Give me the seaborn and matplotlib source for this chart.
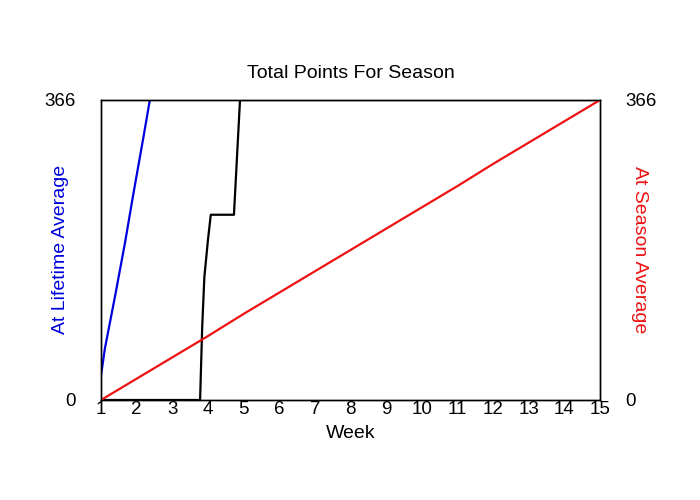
import matplotlib
matplotlib.use("Agg")
import matplotlib.pyplot as plt
import seaborn as sns

sns.set_style("white")
plt.rcParams['font.family'] = ['Liberation Sans', 'DejaVu Sans']
plt.rcParams['text.color'] = 'black'
plt.rcParams['axes.labelcolor'] = 'black'
plt.rcParams['xtick.color'] = 'black'
plt.rcParams['ytick.color'] = 'black'

# Data
lifetime_week = [1.0, 1.11, 1.4, 1.67, 1.91, 2.2, 2.37, 2.6]
lifetime_pts = [30, 63, 128, 191, 252, 323, 366, 420]

total_week = [1.0, 3.78, 3.84, 3.90, 4.0, 4.08, 4.73, 4.90, 15.0]
total_pts = [0, 0, 90, 150, 195, 226, 226, 366, 366]

season_week = [1, 2, 3, 4, 5, 6, 7, 8, 9, 10, 11, 12, 13, 14, 15]
season_pts = [0, 26, 52, 78, 105, 131, 157, 183, 209, 235, 261, 288, 314, 340, 366]

xticks = list(range(1, 16))
yticks = [0, 366]

fig = plt.figure(figsize=(7, 5), dpi=100)
ax = fig.add_axes([101/700, 0.2, 499/700, 0.6])
ax2 = ax.twinx()

sns.lineplot(x=lifetime_week, y=lifetime_pts, ax=ax, color='#0000dd', linewidth=1.6)
sns.lineplot(x=total_week, y=total_pts, ax=ax, color='black', linewidth=1.6)
sns.lineplot(x=season_week, y=season_pts, ax=ax2, color='#ee1111', linewidth=1.6)

for a in (ax, ax2):
    a.set_xlim(1, 15)
    a.set_ylim(0, 366)
    a.set_yticks(yticks)
    a.set_yticklabels([str(t) for t in yticks], fontsize=13.5)
    a.tick_params(axis='both', length=0)
    for s in a.spines.values():
        s.set_color('black')
        s.set_linewidth(1)

ax.set_xticks(xticks)
ax.set_xticklabels([str(t) for t in xticks], fontsize=13.5)
ax.tick_params(axis='x', pad=1)
ax.tick_params(axis='y', pad=18)
ax2.tick_params(axis='y', pad=18)

ax.set_xlabel('Week', fontsize=14, labelpad=5)
ax.set_ylabel('At Lifetime Average', fontsize=14, color='#0000dd', va='center')
ax2.set_ylabel('At Season Average', fontsize=14, color='#ee1111', rotation=270, va='center')
ax.yaxis.set_label_coords(-0.082, 0.502)
ax2.yaxis.set_label_coords(1.080, 0.502)
ax.set_title('Total Points For Season', fontsize=14, pad=16)

fig.savefig('out.png', dpi=100)
